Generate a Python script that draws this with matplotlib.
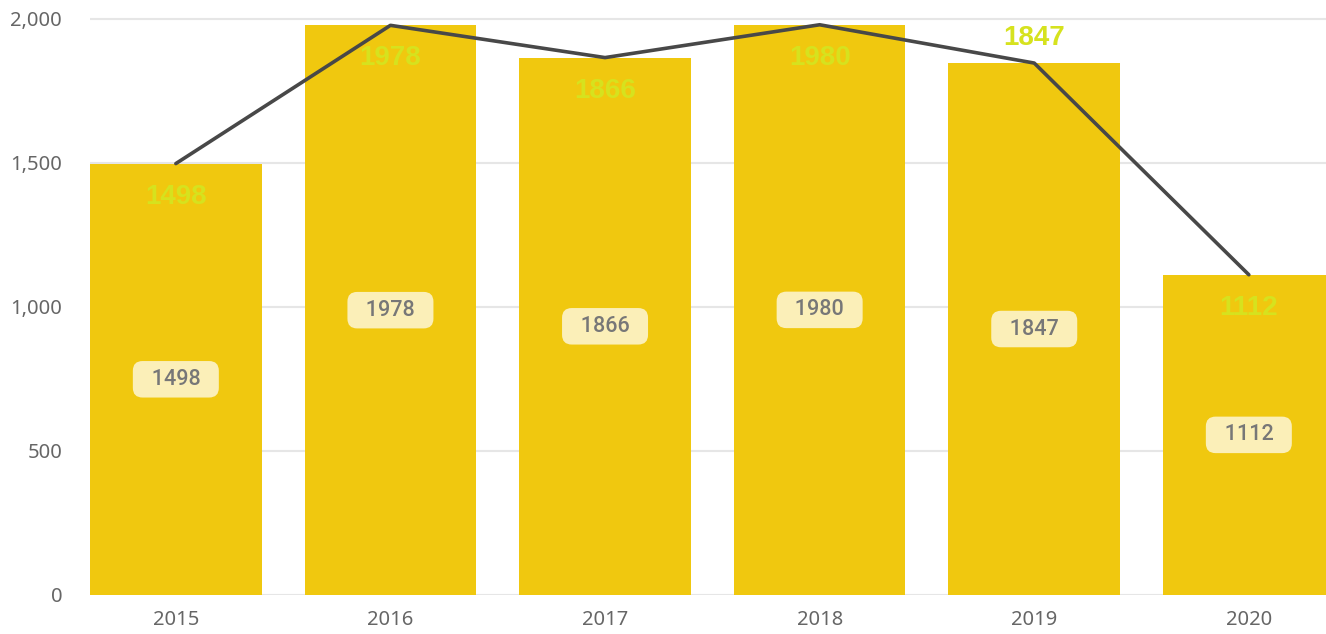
import matplotlib.pyplot as plt

years = ["2015", "2016", "2017", "2018", "2019", "2020"]
bar_vals = [1498, 1978, 1866, 1980, 1847, 1112]
line_vals = [1498, 1978, 1866, 1980, 1847, 1112]
y_ticks = [0, 500, 1000, 1500, 2000]

W, H = 1326, 634
fig = plt.figure(figsize=(W / 100, H / 100), dpi=100, facecolor="white")
ax = fig.add_axes([90 / W, (H - 595) / H, 1 - 90 / W, 595 / H])

x = list(range(len(years)))
ax.bar(x, bar_vals, width=0.8, color="#F0C80F", zorder=2)
ax.plot(x, line_vals, color="#484848", lw=2.6, zorder=4, solid_capstyle="round")

ax.set_xlim(-0.4, -0.4 + 1236 / 214.6)
ax.set_ylim(0, 2000 * 595 / 576)
ax.set_yticks(y_ticks)
ax.set_yticklabels([f"{v:,}" for v in y_ticks])
ax.set_xticks(x)
ax.set_xticklabels(years)
ax.grid(axis="y", color="#e6e6e6", lw=1.5, zorder=0)
for s in ax.spines.values():
    s.set_visible(False)
ax.tick_params(length=0, labelsize=14.5, labelcolor="#666666")
ax.tick_params(axis="y", pad=20)
ax.tick_params(axis="x", pad=11)
for lab in ax.get_xticklabels() + ax.get_yticklabels():
    lab.set_family("Noto Sans")

# label boxes in the middle of each bar
for i, v in enumerate(bar_vals):
    ax.annotate(f"  {v}  ", (i, v / 2), ha="center", va="center", fontsize=15.5,
                color="#777777", family="Roboto", fontweight="medium", zorder=5,
                bbox=dict(boxstyle="round,pad=0.36,rounding_size=0.45",
                          fc="#FBEFB8", ec="none"))

# line value labels
for i, v in enumerate(line_vals):
    above = v == 1847
    ax.annotate(str(v), (i, v), xytext=(0, 25 if above else -33),
                textcoords="offset pixels", ha="center", va="center",
                fontsize=20, fontweight="bold", color="#D6E21E",
                family="Liberation Sans", zorder=6)

fig.savefig("out.png", dpi=100)
